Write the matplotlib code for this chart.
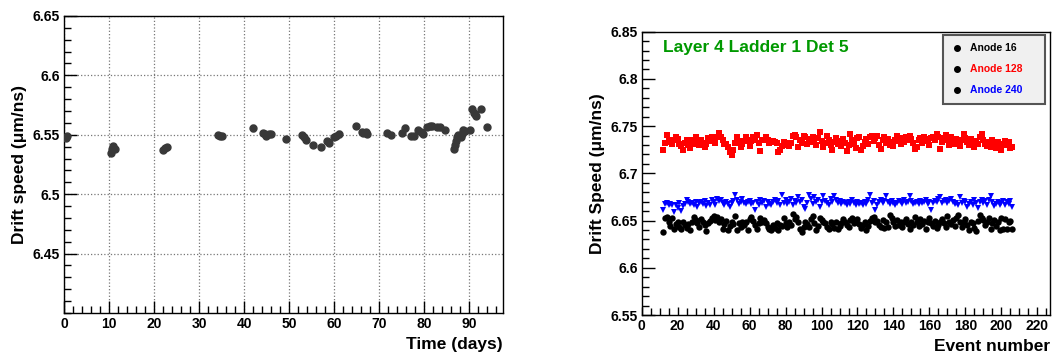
import numpy as np
import matplotlib
matplotlib.use('Agg')
import matplotlib.pyplot as plt
from matplotlib.ticker import MultipleLocator
from matplotlib.lines import Line2D

plt.rcParams['font.family'] = ['Liberation Sans', 'DejaVu Sans']
plt.rcParams['font.weight'] = 'bold'

# lewy panel: predkosc dryfu w czasie
days = [0.3, 0.5, 10.4, 10.7, 10.9, 11.2, 21.9, 22.4, 22.9, 34.1, 34.6, 35.1,
        42.0, 44.1, 44.6, 44.9, 45.4, 45.9, 49.2, 52.8, 53.3, 53.8, 55.3, 57.0,
        58.3, 58.9, 59.9, 60.4, 61.0, 64.8, 66.1, 66.5, 67.0, 67.3, 71.7, 72.6,
        75.1, 75.8, 77.1, 77.8, 78.7, 79.3, 79.8, 80.7, 81.3, 81.8, 82.8, 83.5,
        84.7, 86.6, 86.8, 87.0, 87.2, 87.5, 88.1, 88.3, 88.6, 89.1, 90.1, 90.6,
        91.0, 91.2, 91.6, 92.6, 93.9]
speed = [6.5475, 6.549, 6.5343, 6.5377, 6.5405, 6.538, 6.5374, 6.5385, 6.5394,
         6.5494, 6.549, 6.5486, 6.5556, 6.5517, 6.5506, 6.549, 6.5506, 6.5506,
         6.5466, 6.550, 6.548, 6.5458, 6.5416, 6.5394, 6.5444, 6.5427, 6.548,
         6.5492, 6.5508, 6.5573, 6.5522, 6.5514, 6.552, 6.5506, 6.5511, 6.5494,
         6.5511, 6.5556, 6.5492, 6.5492, 6.5542, 6.5525, 6.5506, 6.5567, 6.557,
         6.557, 6.5564, 6.5562, 6.5539, 6.538, 6.5413, 6.5447, 6.548, 6.5497,
         6.548, 6.5508, 6.5536, 6.5528, 6.5536, 6.5713, 6.5685, 6.5671, 6.5657,
         6.5716, 6.5567]
speed_err = [0.001, 0.001, 0.0015, 0.001, 0.001, 0.001, 0.0008, 0.0008, 0.0008,
             0.0007, 0.0007, 0.0007, 0.0025, 0.001, 0.001, 0.0018, 0.001, 0.001,
             0.001, 0.001, 0.001, 0.0015, 0.001, 0.001, 0.0012, 0.001, 0.001,
             0.001, 0.0025, 0.0018, 0.001, 0.001, 0.001, 0.001, 0.001, 0.0015,
             0.001, 0.0025, 0.0008, 0.0008, 0.001, 0.001, 0.0015, 0.0018, 0.0018,
             0.0015, 0.0018, 0.002, 0.001, 0.001, 0.001, 0.001, 0.0015, 0.001,
             0.0015, 0.0015, 0.0025, 0.001, 0.001, 0.0025, 0.0012, 0.001, 0.001,
             0.001, 0.0008]

# prawy panel: trzy anody vs numer zdarzenia
events = np.arange(12, 207)
anode128 = [
    6.725, 6.732, 6.741, 6.735, 6.733, 6.731, 6.735, 6.739, 6.736, 6.731,
    6.729, 6.725, 6.732, 6.735, 6.730, 6.727, 6.735, 6.731, 6.739, 6.734,
    6.730, 6.735, 6.732, 6.728, 6.731, 6.737, 6.734, 6.739, 6.736, 6.732,
    6.738, 6.743, 6.739, 6.735, 6.731, 6.731, 6.728, 6.723, 6.719, 6.725,
    6.732, 6.739, 6.734, 6.728, 6.731, 6.734, 6.739, 6.735, 6.729, 6.734,
    6.739, 6.735, 6.741, 6.732, 6.724, 6.735, 6.735, 6.739, 6.735, 6.732,
    6.733, 6.734, 6.733, 6.732, 6.723, 6.725, 6.729, 6.733, 6.730, 6.732,
    6.729, 6.732, 6.740, 6.741, 6.739, 6.728, 6.735, 6.732, 6.740, 6.738,
    6.731, 6.736, 6.733, 6.738, 6.735, 6.730, 6.737, 6.744, 6.734, 6.728,
    6.732, 6.740, 6.735, 6.730, 6.725, 6.733, 6.737, 6.731, 6.734, 6.729,
    6.736, 6.732, 6.724, 6.730, 6.742, 6.735, 6.731, 6.727, 6.737, 6.738,
    6.725, 6.729, 6.733, 6.736, 6.731, 6.738, 6.740, 6.734, 6.737, 6.740,
    6.730, 6.726, 6.735, 6.738, 6.732, 6.736, 6.730, 6.733, 6.729, 6.735,
    6.740, 6.734, 6.731, 6.737, 6.733, 6.738, 6.735, 6.740, 6.736, 6.732,
    6.726, 6.728, 6.735, 6.737, 6.732, 6.739, 6.734, 6.736, 6.730, 6.737,
    6.739, 6.735, 6.742, 6.738, 6.726, 6.733, 6.737, 6.741, 6.735, 6.730,
    6.738, 6.734, 6.731, 6.736, 6.733, 6.729, 6.735, 6.742, 6.737, 6.733,
    6.730, 6.736, 6.732, 6.728, 6.734, 6.731, 6.738, 6.742, 6.735, 6.731,
    6.729, 6.733, 6.728, 6.735, 6.731, 6.727, 6.733, 6.729, 6.725, 6.731,
    6.734, 6.730, 6.733, 6.727, 6.728]
anode240 = [
    6.661, 6.668, 6.669, 6.667, 6.668, 6.666, 6.659, 6.667, 6.663, 6.669,
    6.660, 6.665, 6.668, 6.672, 6.670, 6.668, 6.669, 6.667, 6.670, 6.664,
    6.669, 6.670, 6.668, 6.671, 6.665, 6.669, 6.666, 6.672, 6.670, 6.667,
    6.673, 6.671, 6.672, 6.669, 6.666, 6.670, 6.668, 6.664, 6.669, 6.671,
    6.677, 6.672, 6.668, 6.670, 6.673, 6.669, 6.668, 6.670, 6.671, 6.668,
    6.669, 6.661, 6.670, 6.667, 6.672, 6.669, 6.671, 6.664, 6.670, 6.668,
    6.666, 6.670, 6.672, 6.669, 6.671, 6.667, 6.677, 6.669, 6.672, 6.668,
    6.670, 6.673, 6.666, 6.671, 6.669, 6.675, 6.670, 6.672, 6.664, 6.662,
    6.669, 6.677, 6.673, 6.668, 6.675, 6.670, 6.672, 6.664, 6.670, 6.676,
    6.671, 6.669, 6.666, 6.673, 6.670, 6.676, 6.672, 6.669, 6.671, 6.668,
    6.670, 6.669, 6.666, 6.670, 6.668, 6.672, 6.669, 6.667, 6.670, 6.668,
    6.669, 6.667, 6.670, 6.668, 6.672, 6.677, 6.669, 6.671, 6.661, 6.666,
    6.670, 6.672, 6.669, 6.671, 6.676, 6.670, 6.668, 6.671, 6.669, 6.666,
    6.669, 6.671, 6.670, 6.668, 6.672, 6.669, 6.670, 6.676, 6.671, 6.668,
    6.669, 6.670, 6.668, 6.671, 6.669, 6.670, 6.672, 6.668, 6.670, 6.661,
    6.669, 6.671, 6.670, 6.673, 6.675, 6.669, 6.671, 6.672, 6.669, 6.671,
    6.673, 6.670, 6.668, 6.669, 6.666, 6.675, 6.669, 6.671, 6.670, 6.664,
    6.668, 6.670, 6.667, 6.672, 6.669, 6.663, 6.670, 6.672, 6.669, 6.671,
    6.666, 6.672, 6.676, 6.670, 6.665, 6.668, 6.670, 6.666, 6.669, 6.671,
    6.667, 6.670, 6.668, 6.671, 6.664]
anode16 = [
    6.638, 6.653, 6.654, 6.648, 6.644, 6.653, 6.641, 6.646, 6.649, 6.643,
    6.641, 6.648, 6.645, 6.642, 6.646, 6.640, 6.649, 6.654, 6.651, 6.647,
    6.643, 6.652, 6.648, 6.645, 6.639, 6.647, 6.650, 6.653, 6.655, 6.651,
    6.654, 6.648, 6.652, 6.641, 6.646, 6.650, 6.640, 6.644, 6.648, 6.646,
    6.655, 6.640, 6.647, 6.643, 6.649, 6.645, 6.648, 6.640, 6.652, 6.654,
    6.650, 6.645, 6.641, 6.647, 6.653, 6.649, 6.651, 6.647, 6.643, 6.641,
    6.640, 6.645, 6.642, 6.647, 6.640, 6.645, 6.644, 6.653, 6.647, 6.643,
    6.649, 6.645, 6.657, 6.652, 6.654, 6.649, 6.641, 6.638, 6.643, 6.648,
    6.646, 6.643, 6.652, 6.655, 6.647, 6.640, 6.644, 6.653, 6.651, 6.649,
    6.647, 6.643, 6.641, 6.648, 6.646, 6.642, 6.649, 6.641, 6.644, 6.647,
    6.652, 6.648, 6.645, 6.643, 6.651, 6.653, 6.647, 6.649, 6.652, 6.646,
    6.642, 6.645, 6.648, 6.640, 6.644, 6.650, 6.653, 6.654, 6.648, 6.650,
    6.645, 6.643, 6.651, 6.642, 6.649, 6.643, 6.656, 6.653, 6.648, 6.644,
    6.651, 6.645, 6.649, 6.643, 6.648, 6.652, 6.646, 6.641, 6.649, 6.645,
    6.654, 6.648, 6.644, 6.652, 6.646, 6.650, 6.641, 6.648, 6.653, 6.647,
    6.644, 6.650, 6.642, 6.645, 6.649, 6.652, 6.647, 6.643, 6.655, 6.648,
    6.646, 6.651, 6.644, 6.653, 6.656, 6.649, 6.643, 6.648, 6.652, 6.645,
    6.640, 6.649, 6.647, 6.642, 6.639, 6.650, 6.656, 6.653, 6.651, 6.645,
    6.649, 6.653, 6.641, 6.647, 6.651, 6.644, 6.648, 6.640, 6.653, 6.641,
    6.652, 6.641, 6.648, 6.650, 6.641]

fig = plt.figure(figsize=(10.52, 3.52), dpi=100)
ax1 = fig.add_axes([0.0611, 0.1108, 0.417, 0.844])
ax2 = fig.add_axes([0.610, 0.105, 0.388, 0.805])

# styl ROOT: ticki do srodka, tylko lewa i dolna os
for ax in (ax1, ax2):
    ax.tick_params(which='both', direction='in', top=False, right=False,
                   labelsize=10, pad=3)
    ax.tick_params(which='major', length=9, width=1)
    ax.tick_params(which='minor', length=5, width=1)
    for lab in ax.get_xticklabels() + ax.get_yticklabels():
        lab.set_fontweight('bold')
    for s in ax.spines.values():
        s.set_linewidth(1)

# lewy wykres
ax1.errorbar(days, speed, yerr=speed_err, fmt='o', color='#383838',
             ecolor='#383838', markersize=5, elinewidth=1, capsize=1.5, zorder=3)
ax1.set_xlim(0, 97.5)
ax1.set_ylim(6.40, 6.65)
ax1.xaxis.set_major_locator(MultipleLocator(10))
ax1.xaxis.set_minor_locator(MultipleLocator(2))
ax1.yaxis.set_major_locator(MultipleLocator(0.05))
ax1.yaxis.set_minor_locator(MultipleLocator(0.01))
ax1.set_yticks([6.45, 6.5, 6.55, 6.6, 6.65])
ax1.set_yticklabels(['6.45', '6.5', '6.55', '6.6', '6.65'], fontweight='bold')
ax1.set_xticklabels([f'{int(t)}' for t in ax1.get_xticks()], fontweight='bold')
ax1.grid(True, which='major', linestyle=':', color='#777777', linewidth=0.9)
ax1.set_ylabel('Drift speed (\u03bcm/ns)', fontsize=12.5, fontweight='bold')
ax1.set_xlabel('Time (days)', fontsize=12.5, fontweight='bold', loc='right',
               labelpad=4)

# prawy wykres
ax2.plot(events, anode128, 's', color='#ff0000', markersize=4.2,
         markeredgewidth=0, zorder=3)
ax2.plot(events, anode240, 'v', color='#0000ff', markersize=4.6,
         markeredgewidth=0, zorder=3)
ax2.plot(events, anode16, 'o', color='black', markersize=4.6,
         markeredgewidth=0, zorder=3)
ax2.set_xlim(0, 227)
ax2.set_ylim(6.55, 6.85)
ax2.xaxis.set_major_locator(MultipleLocator(20))
ax2.xaxis.set_minor_locator(MultipleLocator(5))
ax2.yaxis.set_major_locator(MultipleLocator(0.05))
ax2.yaxis.set_minor_locator(MultipleLocator(0.01))
ax2.set_yticks([6.55, 6.6, 6.65, 6.7, 6.75, 6.8, 6.85])
ax2.set_yticklabels(['6.55', '6.6', '6.65', '6.7', '6.75', '6.8', '6.85'],
                    fontweight='bold')
ax2.set_xticks(np.arange(0, 221, 20))
ax2.set_xticklabels([f'{t}' for t in np.arange(0, 221, 20)], fontweight='bold')
ax2.tick_params(axis='x', which='major', length=6)
ax2.set_ylabel('Drift Speed (\u03bcm/ns)', fontsize=12.5, fontweight='bold',
               labelpad=4)
ax2.set_xlabel('Event number', fontsize=12.5, fontweight='bold', loc='right',
               labelpad=4)
ax2.text(0.052, 0.945, 'Layer 4 Ladder 1 Det 5', transform=ax2.transAxes,
         color='#009900', fontsize=12.5, fontweight='bold', va='center')

# legenda
handles = [Line2D([], [], marker='o', linestyle='none', color='black',
                  markersize=4) for _ in range(3)]
leg = ax2.legend(handles, ['Anode 16', 'Anode 128', 'Anode 240'],
                 loc='upper left', bbox_to_anchor=(0.737, 0.988, 0.251, 0.0),
                 mode='expand', fontsize=7.5, frameon=True, fancybox=False,
                 labelspacing=1.05, borderpad=0.8, handletextpad=0.6,
                 handlelength=1.2, borderaxespad=0)
leg.get_frame().set_facecolor('#f0f0f0')
leg.get_frame().set_edgecolor('#555555')
leg.get_frame().set_linewidth(1.5)
leg.get_frame().set_alpha(1)
for txt, col in zip(leg.get_texts(), ['black', 'red', 'blue']):
    txt.set_color(col)
    txt.set_fontweight('bold')

plt.savefig('out.png', dpi=100)
plt.close()
print('Zapisano wykres do: out.png')
